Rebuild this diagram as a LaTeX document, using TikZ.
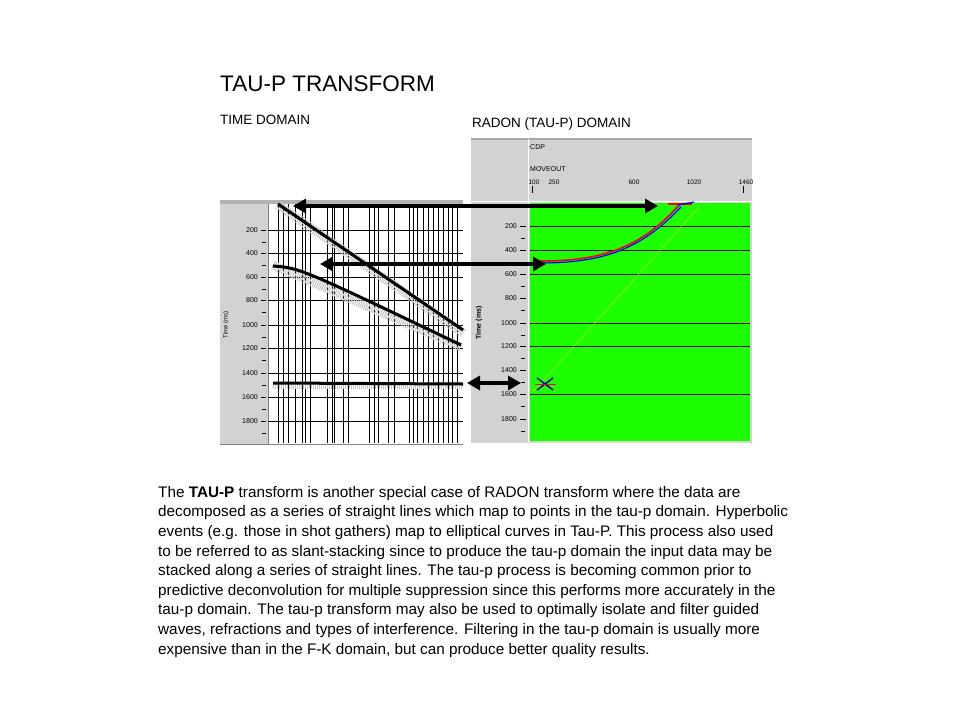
\documentclass[tikz,border=0pt]{standalone}
\usepackage{fontspec}
\setmainfont{Liberation Sans}
\usetikzlibrary{arrows.meta}
\begin{document}
\begin{tikzpicture}[x=1pt,y=-1pt,
  grid/.style={black,line width=0.8pt},
  dbl/.style={line width=3.5pt,{Triangle[length=13pt,width=14pt]}-{Triangle[length=13pt,width=14pt]}},
  ax/.style={font=\fontsize{7}{8}\selectfont,anchor=east,inner sep=1pt},
  evt/.style={line width=3pt,black},
  halo/.style={line width=9pt,gray!45,dash pattern=on 1pt off 1pt}]
\useasboundingbox (0,0) rectangle (960,720);
\node[anchor=base west,inner sep=0,font=\fontsize{22.5}{25}\selectfont] (title) at (220,91) {TAU-P TRANSFORM};
\node[anchor=base west,inner sep=0,font=\fontsize{13.5}{15}\selectfont] (td) at (220,124) {TIME DOMAIN};
\node[anchor=base west,inner sep=0,font=\fontsize{13.5}{15}\selectfont] (rd) at (472,127) {RADON (TAU-P) DOMAIN};
% left panel
\fill[gray!35] (220,200) rectangle (268,445);
\fill[gray!60] (220,200) rectangle (463,204);
\fill[white] (268,204) rectangle (463,443);
\draw[gray] (268,204) -- (268,445) (220,444)--(463,444);
\foreach \x in {278,283,288,295,302,305,310,327,332,334,343,348,369,374,378,388,394,409,413,417,423,428,433,438,443,448,452,457}
  \draw[grid] (\x,204) -- (\x,443);
\foreach \y/\l in {230/200,253/400,277/600,300/800,325/1000,348/1200,373/1400,397/1600,421/1800}{
  \draw[grid] (268,\y) -- (463,\y);
  \draw (261,\y) -- (266,\y);
  \node[ax] at (259,\y) {\l};
  \draw (262,\y+12) -- (266,\y+12);}
\node[rotate=90,font=\fontsize{6}{7}\selectfont] at (226,325) {Time (ms)};
\draw[halo] (278,205) -- (463,333);
\draw[halo] (273,265) -- (461,347);
\draw[halo,line width=7pt] (273,385) -- (463,385);
\draw[evt] (278,204) -- (463,330);
\draw[evt] (273,266) .. controls (300,268) .. (461,345);
\draw[evt] (273,383) -- (463,384);
% right panel
\fill[gray!35] (471,139) rectangle (752,443);
\draw[gray!70,line width=1.5pt] (471,139) -- (752,139);
\draw[white,line width=1pt] (528,139)--(528,443) (471,201)--(752,201);
\fill[green!85!lime] (530,203) rectangle (750,441);
\node[anchor=west,inner sep=0,font=\fontsize{7}{8}\selectfont] (cdp) at (530,147) {CDP};
\node[anchor=west,inner sep=0,font=\fontsize{7}{8}\selectfont] (mo) at (530,169) {MOVEOUT};
\foreach \x/\l in {530/100,550/250,630/600,690/1020,742/1460}
  \node[inner sep=0,font=\fontsize{6.5}{7}\selectfont] at (\x+4,182) {\l};
\draw (532,186)--(532,193) (743,186)--(743,193);
\foreach \y/\l in {226/200,250/400,274/600,298/800,323/1000,346/1200,370/1400,394/1600,419/1800}{
  \node[ax] at (518,\y) {\l};
  \draw (520,\y) -- (526,\y);
  \draw (521,\y+12) -- (525,\y+12);}
\foreach \y in {226,250,274,323,346,394} \draw[grid] (530,\y) -- (750,\y);
\node[rotate=90,font=\fontsize{7}{8}\selectfont\bfseries] at (479,323) {Time (ms)};
\draw[yellow!70!green,line width=0.5pt] (533,392) -- (700,206);
\draw[cyan,line width=3pt] (540,262) .. controls (600,262) and (640,250) .. (680,206);
\draw[red,line width=1.5pt] (540,261) .. controls (600,261) and (640,249) .. (679,205);
\draw[blue!70!black,line width=1pt] (540,263) .. controls (600,263) and (640,251) .. (681,207);
\draw[red,line width=1.2pt] (668,204) -- (692,204);
\draw[blue,line width=1.2pt] (678,205) -- (694,202);
\draw[blue!70!black,line width=1.5pt] (537,378)--(553,390) (537,390)--(553,378);
\draw[red,line width=1pt] (535,384)--(556,384);
% arrows
\coordinate (a1) at (293,206); \coordinate (b1) at (658,206);
\coordinate (a2) at (320,264); \coordinate (b2) at (546,264);
\coordinate (a3) at (467,383); \coordinate (b3) at (521,383);
\draw[dbl] (a1) -- (b1);
\draw[dbl] (a2) -- (b2);
\draw[dbl] (a3) -- (b3);
% text
\node[anchor=north west,inner sep=0,align=left,font=\fontsize{15.3}{19.6}\selectfont] (para) at (158,486) {The \textbf{TAU-P} transform is another special case of RADON transform where the data are\\
decomposed as a series of straight lines which map to points in the tau-p domain. Hyperbolic\\
events (e.g. those in shot gathers) map to elliptical curves in Tau-P. This process also used\\
to be referred to as slant-stacking since to produce the tau-p domain the input data may be\\
stacked along a series of straight lines. The tau-p process is becoming common prior to\\
predictive deconvolution for multiple suppression since this performs more accurately in the\\
tau-p domain. The tau-p transform may also be used to optimally isolate and filter guided\\
waves, refractions and types of interference. Filtering in the tau-p domain is usually more\\
expensive than in the F-K domain, but can produce better quality results.};
\end{tikzpicture}
\end{document}
